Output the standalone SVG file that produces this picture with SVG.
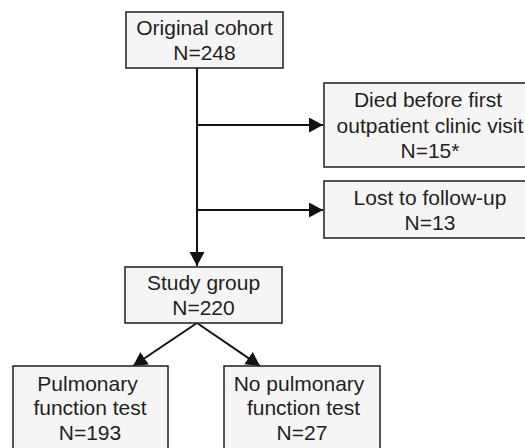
<svg xmlns="http://www.w3.org/2000/svg" width="525" height="448" viewBox="0 0 525 448">
<style>
.box{fill:#f5f5f5;stroke:#2b2b2b;stroke-width:1.6}
.t{font-family:"Liberation Sans",Arial,sans-serif;font-size:21px;fill:#231f20;text-anchor:middle}
.c{stroke:#111;stroke-width:2;fill:none}
</style>
<defs>
<marker id="ah" markerUnits="userSpaceOnUse" markerWidth="16" markerHeight="16" refX="14" refY="7.5" orient="auto">
<path d="M0,0 L14,7.5 L0,15 z" fill="#111"/>
</marker>
</defs>
<rect width="525" height="448" fill="#fff"/>
<g id="connectors">
<line class="c" x1="197" y1="68" x2="197" y2="266" marker-end="url(#ah)"/>
<line class="c" x1="197" y1="125" x2="323" y2="125" marker-end="url(#ah)"/>
<line class="c" x1="197" y1="210" x2="323" y2="210" marker-end="url(#ah)"/>
<line class="c" x1="197" y1="323" x2="133" y2="366" marker-end="url(#ah)"/>
<line class="c" x1="197" y1="323" x2="260" y2="366" marker-end="url(#ah)"/>
</g>
<g id="original">
<rect class="box" x="126" y="12" width="157" height="56"/>
<text class="t" x="204.5" y="35">Original cohort</text>
<text class="t" x="204.5" y="60">N=248</text>
</g>
<g id="died">
<rect class="box" x="324" y="83" width="208" height="84"/>
<text class="t" x="428" y="107">Died before first</text>
<text class="t" x="430" y="133">outpatient clinic visit</text>
<text class="t" x="430" y="158">N=15*</text>
</g>
<g id="lost">
<rect class="box" x="324" y="181" width="208" height="57"/>
<text class="t" x="430" y="205">Lost to follow-up</text>
<text class="t" x="430" y="230">N=13</text>
</g>
<g id="study">
<rect class="box" x="125" y="267" width="157" height="56"/>
<text class="t" x="203.5" y="290">Study group</text>
<text class="t" x="203.5" y="315">N=220</text>
</g>
<g id="pft">
<rect class="box" x="13" y="366" width="155" height="90"/>
<text class="t" x="87.5" y="391">Pulmonary</text>
<text class="t" x="90" y="415">function test</text>
<text class="t" x="90" y="440">N=193</text>
</g>
<g id="nopft">
<rect class="box" x="224" y="366" width="156" height="90"/>
<text class="t" x="299" y="391">No pulmonary</text>
<text class="t" x="303.5" y="415">function test</text>
<text class="t" x="302" y="440">N=27</text>
</g>
</svg>
